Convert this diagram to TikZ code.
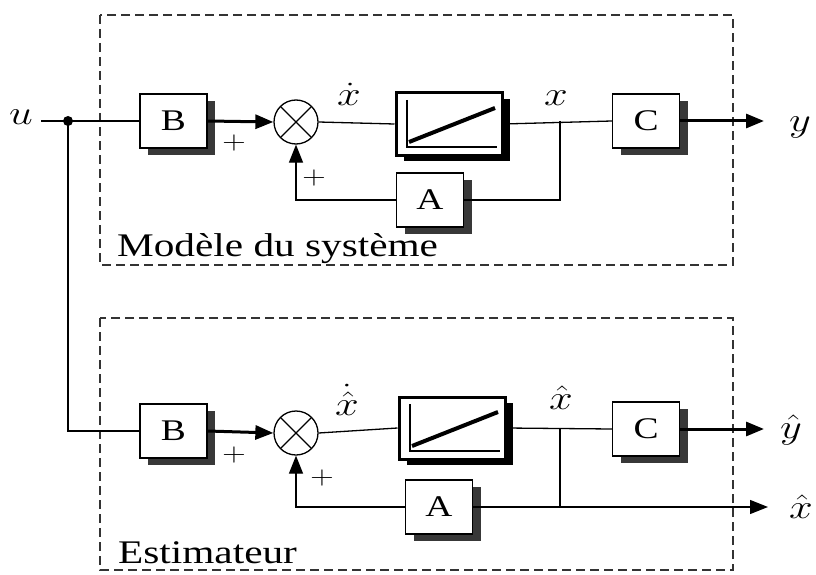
\documentclass[tikz,border=0pt]{standalone}
\usepackage{fix-cm}
\usepackage{fontspec}
\setmainfont{Liberation Serif}
\usepackage{graphicx}
\usetikzlibrary{arrows.meta,shadows}
\newcommand{\wt}[1]{\scalebox{1.25}[1]{#1}}
\begin{document}
\begin{tikzpicture}[x=1pt,y=-1pt,
  blk/.style={draw,line width=1.3pt,fill=white,minimum width=67pt,minimum height=54pt,inner sep=0pt,
    font=\fontsize{30}{34}\selectfont,
    drop shadow={shadow xshift=8pt,shadow yshift=-7pt,fill=black!78,opacity=1}},
  integ/.style={draw,line width=3pt,fill=white,minimum width=106pt,minimum height=62pt,inner sep=0pt,
    drop shadow={shadow xshift=8pt,shadow yshift=-6pt,fill=black,opacity=1}},
  sumnode/.style={draw,circle,line width=1.3pt,fill=white,minimum size=44pt,inner sep=0pt,
    path picture={\draw[line width=1.3pt] (path picture bounding box.north west)--(path picture bounding box.south east)
      (path picture bounding box.north east)--(path picture bounding box.south west);}},
  lbl/.style={inner sep=0pt,font=\fontsize{34}{38}\selectfont},
  pl/.style={inner sep=0pt,font=\fontsize{26}{30}\selectfont},
  txt/.style={inner sep=0pt,anchor=base west,font=\fontsize{33}{38}\selectfont},
  thin/.style={line width=1.3pt},
  thick/.style={line width=3pt},
  arr/.style={-{Triangle[length=18pt,width=14pt]}},
  dbox/.style={draw=black!80,line width=2pt,dash pattern=on 9pt off 5pt},
]
\useasboundingbox (0,0) rectangle (816,575);
% dashed frames
\draw[dbox] (100,15) rectangle (733,265);
\draw[dbox] (100,318) rectangle (733,570);
\node[txt] (mod) at (117,256) {\wt{Modèle du système}};
\node[txt] (est) at (118,563) {\wt{Estimateur}};

% ---------- top (system model) ----------
\node[lbl] (u) at (21,117) {\wt{$u$}};
\coordinate (dot) at (68,121);
\node[blk] (B1) at (173.5,121) {\wt{B}};
\node[sumnode] (S1) at (296,122) {};
\node[integ] (I1) at (449,124) {};
\node[blk] (C1) at (646,121) {\wt{C}};
\node[blk] (A1) at (430,200) {\wt{A}};
\coordinate (J1) at (560,121);
\coordinate (Y1) at (764,121);
\node[lbl] (y1) at (800,127) {\wt{$y$}};
\node[lbl] (xd1) at (349,94) {\wt{$\dot{x}$}};
\node[lbl] (x1) at (556,98) {\wt{$x$}};
\node[pl] (p1) at (234,143) {\wt{$+$}};
\node[pl] (p2) at (314,178) {\wt{$+$}};

\draw[thin] (u.east) ++(8,4) -- (B1.west);
\fill (dot) circle (5pt);
\draw[thick,arr] (B1.east) -- (S1.west);
\draw[thin] (S1.east) -- (I1.west);
\draw[thin] (I1.east) -- (C1.west);
\draw[thick,arr] (C1.east) -- (Y1);
\draw[thin] (J1) |- (A1.east);
\draw[thin,arr] (A1.west) -| (S1.south);
\begin{scope}[shift={(I1.center)}]
  \draw[line width=1.5pt] (-42,-24) -- (-42,23) -- (48,23);
  \draw[line width=4pt] (-40,18) -- (46,-16);
\end{scope}

% ---------- bottom (estimator) ----------
\node[blk] (B2) at (173.5,431) {\wt{B}};
\node[sumnode] (S2) at (296,433) {};
\node[integ] (I2) at (452,428) {};
\node[blk] (C2) at (646,429) {\wt{C}};
\node[blk] (A2) at (439,507) {\wt{A}};
\coordinate (J2) at (560,429);
\coordinate (J3) at (560,507);
\coordinate (Y2) at (764,429);
\coordinate (X2) at (768,507);
\node[lbl] (y2) at (791,430) {\wt{$\hat{y}$}};
\node[lbl] (x2) at (801,507) {\wt{$\hat{x}$}};
\node[lbl] (xd2) at (347,400) {\wt{$\dot{\hat{x}}$}};
\node[lbl] (xh2) at (561,398) {\wt{$\hat{x}$}};
\node[pl] (p3) at (234,455) {\wt{$+$}};
\node[pl] (p4) at (322,478) {\wt{$+$}};

\draw[thin] (dot) |- (B2.west);
\draw[thick,arr] (B2.east) -- (S2.west);
\draw[thin] (S2.east) -- (I2.west);
\draw[thin] (I2.east) -- (C2.west);
\draw[thick,arr] (C2.east) -- (Y2);
\draw[thin] (J2) -- (J3);
\draw[thin,arr] (A2.east) -- (X2);
\draw[thin,arr] (A2.west) -| (S2.south);
\begin{scope}[shift={(I2.center)}]
  \draw[line width=1.5pt] (-42,-24) -- (-42,23) -- (48,23);
  \draw[line width=4pt] (-40,18) -- (46,-16);
\end{scope}
\end{tikzpicture}
\end{document}
